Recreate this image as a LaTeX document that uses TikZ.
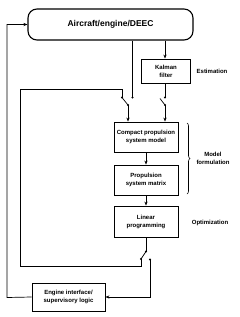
\documentclass[tikz,border=0pt]{standalone}
\usepackage{fontspec}
\setmainfont{Liberation Sans}
\usetikzlibrary{arrows.meta,decorations.pathreplacing}
\begin{document}
\begin{tikzpicture}[x=1pt,y=-1pt,
  box/.style={draw,line width=0.8pt,minimum width=64pt,minimum height=30pt,inner sep=1pt,align=center,font=\fontsize{6}{8}\selectfont\bfseries},
  lbl/.style={font=\fontsize{6}{8}\selectfont\bfseries,align=center},
  wire/.style={line width=0.7pt},
  arr/.style={wire,-{Stealth[length=4pt,width=3.2pt]}}]
\useasboundingbox (0,0) rectangle (240,317);
\node[draw,line width=1.1pt,rounded corners=9pt,minimum width=165pt,minimum height=31pt,font=\fontsize{8.5}{10}\selectfont\bfseries] (ac) at (110.5,24.5) {Aircraft/engine/DEEC};
\node[box,minimum width=49pt,minimum height=24pt] (kf) at (166,71) {Kalman\\filter};
\node[box] (cpsm) at (146,137) {Compact propulsion\\system model};
\node[box] (psm) at (146,180) {Propulsion\\system matrix};
\node[box,minimum height=31pt] (lp) at (146,221.5) {Linear\\programming};
\node[box,minimum width=73pt,minimum height=28pt] (eng) at (68.5,297) {Engine interface/\\supervisory logic};
\node[lbl] (est) at (212,71) {Estimation};
\node[lbl] (mf) at (213,158.5) {Model\\formulation};
\node[lbl] (opt) at (210,223) {Optimization};
\draw[line width=0.6pt,decorate,decoration={brace,amplitude=3pt}] (187,123) -- (187,194);
% switch points
\coordinate (LA) at (122,97.5);
\coordinate (LP) at (128,105);
\coordinate (LF) at (132.5,97.5);
\coordinate (RF) at (165,97.5);
\coordinate (RT) at (160,98.5);
\coordinate (RP) at (165,105);
\coordinate (BP) at (146,251.5);
\coordinate (BA) at (141,259);
\coordinate (BB) at (150,259.5);
\coordinate (c1) at (20,266);
\coordinate (c2) at (20,89);
\coordinate (c3) at (7,297.5);
% wires
\draw[wire] (ac.south -| LF) -- (LF);
\draw[arr] (ac.south -| RF) -- (kf.north -| RF);
\draw[wire] (kf.south -| RF) -- (RF);
\draw[wire] (RP) -- (RT);
\draw[arr] (RP) -- (RP |- cpsm.north);
\draw[wire] (LP) -- (LA);
\draw[arr] (LP) -- (LP |- cpsm.north);
\draw[arr] (cpsm) -- (psm);
\draw[arr] (psm) -- (lp);
\draw[wire] (lp.south) -- (BP);
\draw[wire] (BP) -- (BA);
\draw[wire] (BA) |- (c1) -- (c2) -| (LA);
\draw[arr] (BB) |- (eng.east);
\draw[arr] (eng.west) -- (c3) |- (ac.west);
\foreach \p in {LA,LP,LF,RF,RP,BP,BA,BB} \fill (\p) circle (1.1pt);
\end{tikzpicture}
\end{document}
